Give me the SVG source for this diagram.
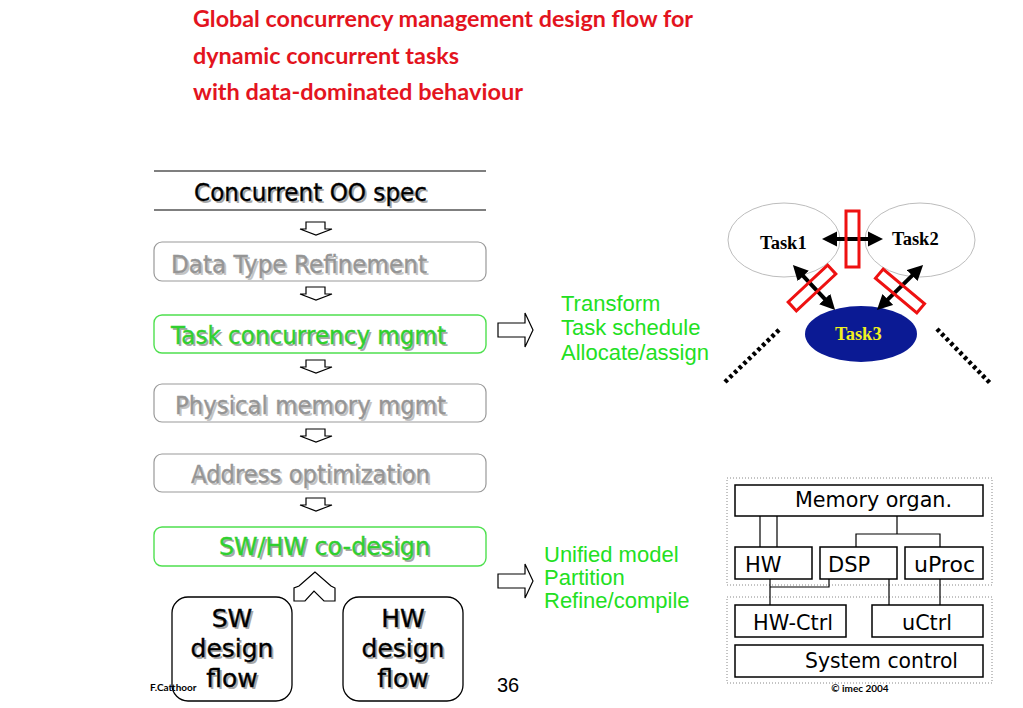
<svg xmlns="http://www.w3.org/2000/svg" width="1023" height="708" viewBox="0 0 1023 708">
<defs>
<style>
.title{font-family:Lato,"Open Sans",sans-serif;font-weight:bold;font-size:22px;fill:#e3141e}
.flow{font-family:"DejaVu Sans",Verdana,sans-serif;font-size:25px;stroke-width:0.35}
.sh{fill:#a8a8a8}
.blk{fill:#000;stroke:#000}
.gry{fill:#959595;stroke:#959595}
.grn{fill:#2fd02f;stroke:#2fd02f}
.box{fill:#fff;stroke:#999;stroke-width:1.2}
.gbox{fill:#fff;stroke:#4fe04f;stroke-width:1.4}
.kbox{fill:#fff;stroke:#000;stroke-width:1.3}
.blkarrow{fill:#fff;stroke:#000;stroke-width:1.2;stroke-linejoin:miter}
.note{font-family:"Liberation Sans",Arial,sans-serif;font-size:22px;fill:#22e022}
.arch{font-family:"DejaVu Sans",Verdana,sans-serif;font-size:21px;fill:#000}
.abox{fill:#fff;stroke:#000;stroke-width:1.5}
.dotbox{fill:none;stroke:#888;stroke-width:1;stroke-dasharray:1 2}
.wire{fill:none;stroke:#000;stroke-width:1.2}
.ell{fill:#fff;stroke:#bdbdbd;stroke-width:1}
.tlab{font-family:"Liberation Serif","Times New Roman",serif;font-weight:bold;font-size:18.5px}
.red{fill:none;stroke:#ee1111;stroke-width:3}
.dbl{stroke:#000;stroke-width:4;fill:none}
.dots{stroke:#000;stroke-width:4.5;stroke-dasharray:3.5 3;fill:none}
.small{font-family:Lato,"Open Sans",sans-serif;font-weight:bold;font-size:10px;fill:#000}
</style>
<marker id="ah" viewBox="0 0 10 10" refX="2" refY="5" markerWidth="3.8" markerHeight="4" orient="auto-start-reverse">
<path d="M0,0 L10,5 L0,10 z" fill="#000"/>
</marker>
<path id="down" d="M-10,0 H9 V7 H16 L0,13 L-16,7 H-10 Z"/>
<path id="right" d="M0,-7 H27 V-17 L35,0 L27,17 V7 H0 Z"/>
</defs>

<g id="title">
<text class="title" x="193" y="27" textLength="500" lengthAdjust="spacingAndGlyphs">Global concurrency management design flow for</text>
<text class="title" x="193" y="64" textLength="266" lengthAdjust="spacingAndGlyphs">dynamic concurrent tasks</text>
<text class="title" x="193" y="100" textLength="330" lengthAdjust="spacingAndGlyphs">with data-dominated behaviour</text>
</g>

<g id="node-spec">
<line x1="154" y1="171" x2="486" y2="171" stroke="#000" stroke-width="1.2"/>
<line x1="154" y1="210" x2="486" y2="210" stroke="#000" stroke-width="1.2"/>
<text class="flow sh" x="196" y="203" textLength="233" lengthAdjust="spacingAndGlyphs">Concurrent OO spec</text>
<text class="flow blk" x="194" y="201" textLength="233" lengthAdjust="spacingAndGlyphs">Concurrent OO spec</text>
</g>

<g id="node-datatype">
<rect class="box" x="154" y="242" width="332" height="39" rx="8"/>
<text class="flow" fill="#c4c4c4" x="173" y="275" textLength="256" lengthAdjust="spacingAndGlyphs">Data Type Refinement</text>
<text class="flow gry" x="171" y="273" textLength="256" lengthAdjust="spacingAndGlyphs">Data Type Refinement</text>
</g>

<g id="node-task">
<rect class="gbox" x="154" y="315" width="332" height="38" rx="8"/>
<text class="flow sh" x="173" y="346" textLength="275" lengthAdjust="spacingAndGlyphs">Task concurrency mgmt</text>
<text class="flow grn" x="171" y="344" textLength="275" lengthAdjust="spacingAndGlyphs">Task concurrency mgmt</text>
</g>

<g id="node-physical">
<rect class="box" x="154" y="384" width="332" height="38" rx="8"/>
<text class="flow" fill="#c4c4c4" x="177" y="416" textLength="271" lengthAdjust="spacingAndGlyphs">Physical memory mgmt</text>
<text class="flow gry" x="175" y="414" textLength="271" lengthAdjust="spacingAndGlyphs">Physical memory mgmt</text>
</g>

<g id="node-address">
<rect class="box" x="154" y="454" width="332" height="38" rx="8"/>
<text class="flow" fill="#c4c4c4" x="193" y="485" textLength="239" lengthAdjust="spacingAndGlyphs">Address optimization</text>
<text class="flow gry" x="191" y="483" textLength="239" lengthAdjust="spacingAndGlyphs">Address optimization</text>
</g>

<g id="node-codesign">
<rect class="gbox" x="154" y="527" width="332" height="39" rx="8"/>
<text class="flow sh" x="221" y="557" textLength="211" lengthAdjust="spacingAndGlyphs">SW/HW co-design</text>
<text class="flow grn" x="219" y="555" textLength="211" lengthAdjust="spacingAndGlyphs">SW/HW co-design</text>
</g>

<g id="node-sw">
<rect class="kbox" x="172" y="597" width="120" height="104" rx="16"/>
<g text-anchor="middle">
<text class="flow sh" x="234" y="629">SW</text>
<text class="flow blk" x="232" y="627">SW</text>
<text class="flow sh" x="234" y="659">design</text>
<text class="flow blk" x="232" y="657">design</text>
<text class="flow sh" x="234" y="689">flow</text>
<text class="flow blk" x="232" y="687">flow</text>
</g>
</g>

<g id="node-hw">
<rect class="kbox" x="343" y="597" width="120" height="104" rx="16"/>
<g text-anchor="middle">
<text class="flow sh" x="405" y="629">HW</text>
<text class="flow blk" x="403" y="627">HW</text>
<text class="flow sh" x="405" y="659">design</text>
<text class="flow blk" x="403" y="657">design</text>
<text class="flow sh" x="405" y="689">flow</text>
<text class="flow blk" x="403" y="687">flow</text>
</g>
</g>

<g id="connectors">
<use href="#down" class="blkarrow" x="316" y="222"/>
<use href="#down" class="blkarrow" x="316" y="287"/>
<use href="#down" class="blkarrow" x="316" y="360"/>
<use href="#down" class="blkarrow" x="316" y="429"/>
<use href="#down" class="blkarrow" x="316" y="498"/>
<path class="blkarrow" d="M315,572 L299,586 L294,588 V601 H305 L314,591 L324,601 H335 V588 L331,586 Z"/>
<use href="#right" class="blkarrow" x="498" y="330"/>
<use href="#right" class="blkarrow" x="498" y="581"/>
</g>

<g id="notes">
<text class="note" x="561" y="311">Transform</text>
<text class="note" x="561" y="335">Task schedule</text>
<text class="note" x="561" y="360">Allocate/assign</text>
<text class="note" x="544" y="562">Unified model</text>
<text class="note" x="544" y="585">Partition</text>
<text class="note" x="544" y="608">Refine/compile</text>
</g>

<g id="task-graph">
<g id="task1">
<ellipse class="ell" cx="784" cy="240" rx="56" ry="37"/>
<text class="tlab" x="760" y="249">Task1</text>
</g>
<g id="task2">
<ellipse class="ell" cx="920" cy="240" rx="55" ry="37"/>
<text class="tlab" x="892" y="245">Task2</text>
</g>
<g id="task3">
<ellipse cx="861" cy="334" rx="56" ry="28" fill="#0b1a94"/>
<text class="tlab" x="835" y="340" fill="#f0f020">Task3</text>
</g>
<g id="task-links">
<line class="dbl" x1="834" y1="239" x2="871" y2="239" marker-start="url(#ah)" marker-end="url(#ah)"/>
<line class="dbl" x1="801.2" y1="273.8" x2="826.8" y2="301.2" marker-start="url(#ah)" marker-end="url(#ah)"/>
<line class="dbl" x1="914.4" y1="273.4" x2="885.6" y2="301.6" marker-start="url(#ah)" marker-end="url(#ah)"/>
<rect class="red" x="846" y="211" width="13" height="56"/>
<rect class="red" x="-27" y="-6" width="54" height="12" transform="translate(812,288) rotate(-43)"/>
<rect class="red" x="-27" y="-6" width="54" height="12" transform="translate(900,291) rotate(40)"/>
<line class="dots" x1="725" y1="382" x2="780" y2="329"/>
<line class="dots" x1="937" y1="329" x2="990" y2="383"/>
</g>
</g>

<g id="architecture">
<rect class="dotbox" x="727" y="478" width="265" height="107"/>
<rect class="dotbox" x="727" y="597" width="265" height="86"/>
<g id="arch-wires">
<path class="wire" d="M760,516 V547 M777,516 V547 M897,516 V534 M856,547 V534 H940 V547 M770,579 V605 M829,579 V587 H770 M889,579 V605 M940,579 V605"/>
</g>
<g id="mem"><rect class="abox" x="735" y="485" width="248" height="31"/><text class="arch" x="795" y="507" textLength="157" lengthAdjust="spacingAndGlyphs">Memory organ.</text></g>
<g id="hw"><rect class="abox" x="735" y="547" width="77" height="32"/><text class="arch" x="745" y="572">HW</text></g>
<g id="dsp"><rect class="abox" x="820" y="547" width="77" height="32"/><text class="arch" x="828" y="572">DSP</text></g>
<g id="uproc"><rect class="abox" x="905" y="547" width="78" height="32"/><text class="arch" x="914" y="572" textLength="61" lengthAdjust="spacingAndGlyphs">uProc</text></g>
<g id="hwctrl"><rect class="abox" x="735" y="605" width="111" height="32"/><text class="arch" x="753" y="630" textLength="80" lengthAdjust="spacingAndGlyphs">HW-Ctrl</text></g>
<g id="uctrl"><rect class="abox" x="872" y="605" width="111" height="32"/><text class="arch" x="902" y="630" textLength="50" lengthAdjust="spacingAndGlyphs">uCtrl</text></g>
<g id="sysctrl"><rect class="abox" x="735" y="645" width="248" height="32"/><text class="arch" x="805" y="668" textLength="153" lengthAdjust="spacingAndGlyphs">System control</text></g>
</g>

<g id="footer">
<text class="small" x="150" y="691">F.Catthoor</text>
<text x="497" y="692" font-family="Liberation Sans,Arial,sans-serif" font-size="20">36</text>
<text class="small" x="860" y="692" text-anchor="middle">© imec 2004</text>
</g>
</svg>
